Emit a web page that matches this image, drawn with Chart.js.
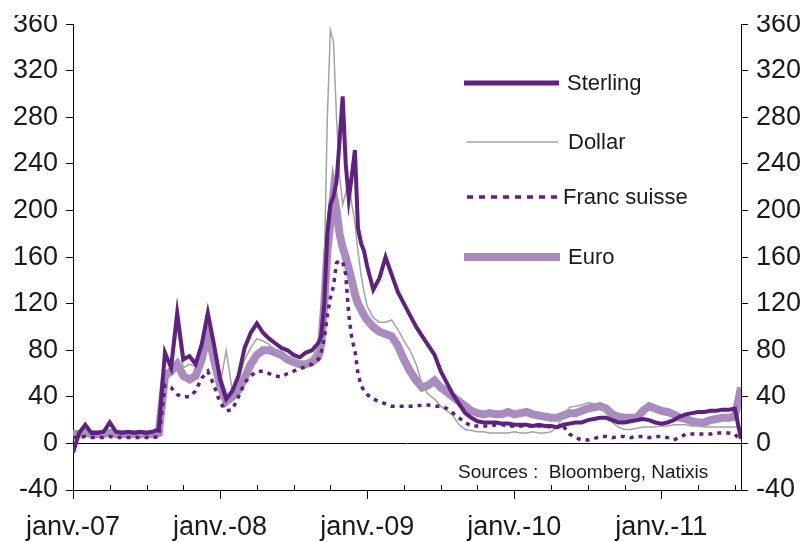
<!DOCTYPE html>
<html>
<head>
<meta charset="utf-8">
<script src="https://cdn.jsdelivr.net/npm/chart.js@4.4.1/dist/chart.umd.min.js"></script>
<style>
  html, body { margin: 0; padding: 0; background: #fff; }
  #wrap { width: 808px; height: 542px; }
</style>
</head>
<body>
<div id="wrap"><canvas id="myChart" width="808" height="542"></canvas></div>
<script>
// months since janv. 2007
const months = [
  0,0.5,1,1.5,2,2.5,3,3.5,4,4.5,5,5.5,6,6.5,7,7.5,8,8.5,9,9.5,10,10.5,11,11.5,12,12.5,13,13.5,14,14.5,15,15.5,16,16.5,17,17.5,18,18.5,19,19.5,20,
  20.25,20.5,20.75,21,21.25,21.5,21.75,22,22.25,22.5,22.75,23,23.25,23.5,23.75,24,
  24.5,25,25.5,26,26.5,27,27.5,28,28.5,29,29.5,30,30.5,31,31.5,32,32.5,33,33.5,34,34.5,35,35.5,36,36.5,37,37.5,38,38.5,39,39.5,40,
  40.5,41,41.5,42,42.5,43,43.5,44,44.5,45,45.5,46,46.5,47,47.5,48,48.5,49,49.5,50,50.5,51,51.5,52,52.5,53,53.5,54,54.5
];
const sterling = [
  -8,9,16,9,9,10,18,10,9,10,9,10,9,10,12,78,65,112,72,75,68,85,112,85,55,38,45,58,82,95,103,95,90,86,82,80,76,74,78,80,86,
  92,120,180,205,212,225,260,298,240,210,230,252,185,172,165,152,
  132,142,160,145,130,120,110,100,92,84,76,62,52,42,34,26,22,19,18,18,18,17,17,16,16,16,15,16,15,15,14,16,
  17,18,18,20,21,22,22,20,18,18,19,20,21,20,18,17,18,20,23,25,26,27,27,28,28,29,29,30,4
];
const dollar = [
  7,9,10,8,9,9,11,9,9,9,9,9,9,9,10,62,60,100,65,68,66,82,105,82,50,80,45,55,72,82,90,88,85,80,76,74,72,70,70,74,82,
  95,150,280,355,345,280,230,205,215,225,205,190,165,145,130,118,
  108,104,104,106,98,88,80,68,50,42,38,32,28,24,16,12,11,10,10,9,9,9,9,10,9,9,10,9,9,10,14,24,
  31,32,33,35,34,32,26,18,14,12,12,13,14,14,14,15,15,16,16,16,15,15,14,14,14,14,14,14,13
];
const francSuisse = [
  5,5,6,5,5,5,6,5,5,5,5,5,5,5,6,50,48,42,40,40,45,56,62,50,35,28,29,40,52,58,62,62,60,58,57,60,62,64,66,68,72,
  78,90,110,125,135,155,157,156,145,110,90,80,60,50,45,42,
  38,36,34,32,32,32,32,32,33,33,32,32,30,26,22,18,15,15,15,15,16,16,15,15,15,15,15,15,15,14,14,15,
  8,5,3,3,4,6,6,5,6,6,5,6,6,5,6,6,5,3,5,8,8,8,8,8,9,9,9,8,2
];
const euro = [
  8,8,9,8,8,8,9,8,8,8,8,8,8,8,9,58,62,68,58,55,58,72,95,72,50,36,40,46,56,68,76,80,80,78,76,72,70,68,68,70,74,
  85,120,165,190,215,200,180,168,160,150,140,128,120,115,110,106,
  100,96,94,92,84,72,62,54,48,50,54,48,44,40,36,32,28,26,25,26,25,25,27,25,26,27,25,24,23,22,22,24,
  26,26,28,30,31,32,30,25,23,22,22,22,28,32,30,28,27,25,22,21,19,18,18,20,21,22,22,23,48
];
const yTicks = [-40,0,40,80,120,160,200,240,280,320,360];
const yearLabels = ['janv.-07','janv.-08','janv.-09','janv.-10','janv.-11'];

const purple = '#5e2180';
const lilac = '#a98bbf';
const grey = '#a3a3a3';
const fontFamily = "'Liberation Sans', Arial, sans-serif";
const font = {family: fontFamily, size: 27};

function pts(vals) {
  return vals.map((v, i) => ({x: months[i], y: v}));
}

const legendItems = [
  {label: 'Sterling', y: 83, color: purple, width: 5, dash: [], x1: 464, x2: 559, tx: 567},
  {label: 'Dollar', y: 142, color: grey, width: 1.5, dash: [], x1: 467, x2: 558, tx: 568},
  {label: 'Franc suisse', y: 197, color: purple, width: 3.5, dash: [6, 6], x1: 467, x2: 560, tx: 563},
  {label: 'Euro', y: 257, color: lilac, width: 8, dash: [], x1: 464, x2: 560, tx: 568}
];

const extras = {
  id: 'extras',
  afterDraw(chart) {
    const c = chart.ctx;
    const xs = chart.scales.x;
    const bottom = chart.chartArea.bottom;
    c.save();
    // minor quarterly ticks (upward)
    c.strokeStyle = '#000';
    c.lineWidth = 1;
    xs.ticks.forEach(t => {
      if (t.value % 12 !== 0) {
        const px = Math.round(xs.getPixelForValue(t.value)) + 0.5;
        c.beginPath();
        c.moveTo(px, bottom - 5);
        c.lineTo(px, bottom);
        c.stroke();
      }
    });
    // legend inside the plot
    legendItems.forEach(it => {
      c.beginPath();
      c.strokeStyle = it.color;
      c.lineWidth = it.width;
      c.setLineDash(it.dash);
      c.lineCap = 'butt';
      c.moveTo(it.x1, it.y);
      c.lineTo(it.x2, it.y);
      c.stroke();
      c.setLineDash([]);
      c.fillStyle = '#1a1a1a';
      c.font = '22px ' + fontFamily;
      c.textBaseline = 'middle';
      c.textAlign = 'left';
      c.fillText(it.label, it.tx, it.y + 1);
    });
    c.font = '19px ' + fontFamily;
    c.fillStyle = '#1a1a1a';
    c.textBaseline = 'middle';
    c.fillText('Sources :  Bloomberg, Natixis', 458, 473);
    // top of the picture is cut
    c.fillStyle = '#fff';
    c.fillRect(0, 0, 808, 15);
    c.restore();
  }
};

const config = {
  type: 'line',
  data: {
    datasets: [
      {label: 'Sterling', data: pts(sterling), borderColor: purple, borderWidth: 4, order: 2},
      {label: 'Dollar', data: pts(dollar), borderColor: grey, borderWidth: 1.5, order: 3},
      {label: 'Franc suisse', data: pts(francSuisse), borderColor: purple, borderWidth: 3.5, borderDash: [4, 5], order: 1},
      {label: 'Euro', data: pts(euro), borderColor: lilac, borderWidth: 8, order: 4}
    ]
  },
  options: {
    responsive: false,
    animation: false,
    layout: {padding: {top: 22, left: 0, right: 0, bottom: 0}},
    elements: {point: {radius: 0}, line: {tension: 0, fill: false}},
    plugins: {legend: {display: false}, tooltip: {enabled: false}},
    scales: {
      x: {
        type: 'linear',
        min: 0,
        max: 54.5,
        afterBuildTicks: s => { s.ticks = []; for (let m = 0; m <= 54; m += 3) s.ticks.push({value: m}); },
        afterFit: s => { s.height = 52; },
        border: {color: '#000', width: 1},
        grid: {
          drawOnChartArea: false,
          tickLength: 9,
          tickColor: c => (c.tick && c.tick.value % 12 === 0) ? '#000' : 'rgba(0,0,0,0)'
        },
        ticks: {
          font: font,
          color: '#1a1a1a',
          padding: 12,
          maxRotation: 0,
          autoSkip: false,
          callback: v => v % 12 === 0 ? yearLabels[v / 12] : ''
        }
      },
      y: {
        position: 'left',
        min: -40,
        max: 360,
        afterBuildTicks: s => { s.ticks = yTicks.map(v => ({value: v})); },
        afterFit: s => { s.width = 73; },
        border: {color: '#000', width: 1},
        grid: {
          tickLength: 7,
          tickColor: '#000',
          color: c => (c.tick && c.tick.value === 0) ? '#000' : 'rgba(0,0,0,0)'
        },
        ticks: {font: font, color: '#1a1a1a', padding: 8}
      },
      y2: {
        position: 'right',
        min: -40,
        max: 360,
        afterBuildTicks: s => { s.ticks = yTicks.map(v => ({value: v})); },
        afterFit: s => { s.width = 67; },
        border: {color: '#000', width: 1},
        grid: {drawOnChartArea: false, tickLength: 7, tickColor: '#000'},
        ticks: {font: font, color: '#1a1a1a', padding: 8}
      }
    }
  },
  plugins: [extras]
};

const ctx = document.getElementById('myChart').getContext('2d');
new Chart(ctx, config);
</script>
</body>
</html>
